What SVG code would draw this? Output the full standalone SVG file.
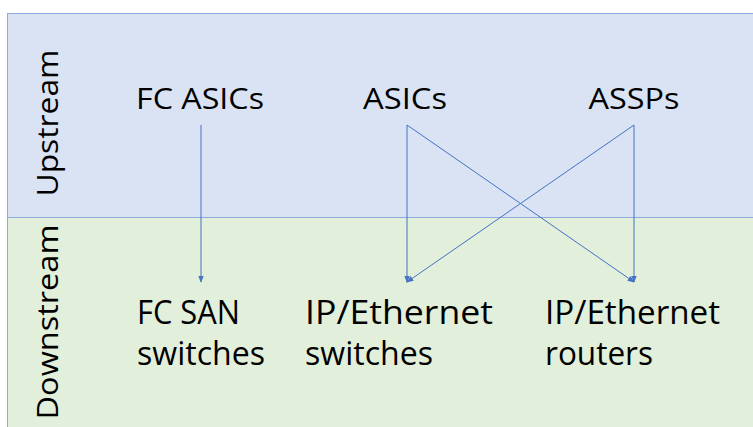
<svg xmlns="http://www.w3.org/2000/svg" width="753" height="427" viewBox="0 0 753 427">
<defs>
<style>
.t{font-family:"Open Sans","Noto Sans","Liberation Sans",sans-serif;font-size:29px;fill:#000}
.b{font-size:32px}
.c{stroke:#4472c4;stroke-width:1;fill:none;marker-end:url(#ah)}
</style>
<marker id="ah" viewBox="0 0 10 10" refX="9" refY="5" markerWidth="7" markerHeight="7" markerUnits="userSpaceOnUse" orient="auto">
<path d="M0,1 L10,5 L0,9 Z" fill="#4472c4"/>
</marker>
</defs>
<rect width="753" height="427" fill="#ffffff"/>
<g id="upstream">
<rect x="7.5" y="13.5" width="760" height="204" fill="#dae3f3" stroke="#8faadc" stroke-width="1"/>
<text class="t" transform="translate(58,123) rotate(-90)" text-anchor="middle" textLength="147" lengthAdjust="spacingAndGlyphs">Upstream</text>
</g>
<g id="downstream">
<rect x="7.5" y="217.5" width="760" height="220" fill="#e2efda" stroke="#8faadc" stroke-width="1"/>
<text class="t" transform="translate(58,322) rotate(-90)" text-anchor="middle" textLength="195" lengthAdjust="spacingAndGlyphs">Downstream</text>
</g>
<g id="connectors">
<line class="c" x1="201" y1="125" x2="201" y2="282"/>
<line class="c" x1="407" y1="125" x2="407" y2="282"/>
<line class="c" x1="407" y1="125" x2="634" y2="282"/>
<line class="c" x1="634" y1="125" x2="634" y2="282"/>
<line class="c" x1="634" y1="125" x2="407" y2="282"/>
</g>
<g id="fc-asics"><text class="t" x="200" y="109" text-anchor="middle" textLength="128" lengthAdjust="spacingAndGlyphs">FC ASICs</text></g>
<g id="asics"><text class="t" x="405" y="109" text-anchor="middle" textLength="84" lengthAdjust="spacingAndGlyphs">ASICs</text></g>
<g id="assps"><text class="t" x="634" y="109" text-anchor="middle" textLength="91" lengthAdjust="spacingAndGlyphs">ASSPs</text></g>
<g id="fc-san-switches">
<text class="t b" x="137" y="324" textLength="103" lengthAdjust="spacingAndGlyphs">FC SAN</text>
<text class="t b" x="137" y="365" textLength="128" lengthAdjust="spacingAndGlyphs">switches</text>
</g>
<g id="ip-ethernet-switches">
<text class="t b" x="305" y="324" textLength="188" lengthAdjust="spacingAndGlyphs">IP/Ethernet</text>
<text class="t b" x="305" y="365" textLength="128" lengthAdjust="spacingAndGlyphs">switches</text>
</g>
<g id="ip-ethernet-routers">
<text class="t b" x="545" y="324" textLength="175" lengthAdjust="spacingAndGlyphs">IP/Ethernet</text>
<text class="t b" x="545" y="365" textLength="108" lengthAdjust="spacingAndGlyphs">routers</text>
</g>
</svg>
